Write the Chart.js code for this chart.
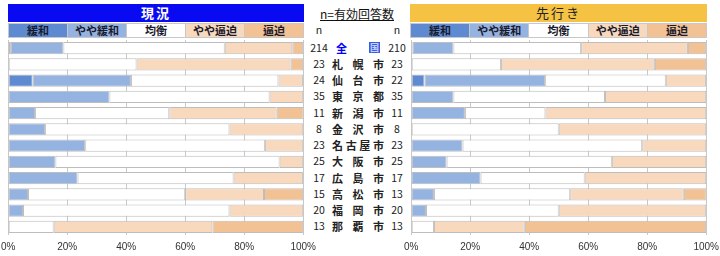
<!DOCTYPE html>
<html><head><meta charset="utf-8">
<script src="https://cdn.jsdelivr.net/npm/chart.js@4/dist/chart.umd.min.js"></script>
<style>
html,body{margin:0;padding:0;background:#fff;width:720px;height:256px;overflow:hidden;font-family:"Noto Sans CJK JP","Noto Sans",sans-serif;}
.abs{position:absolute;}
.title{position:absolute;top:4px;height:18px;line-height:18px;text-align:center;font-size:13px;font-weight:bold;letter-spacing:2px;}
.leg{position:absolute;top:23px;height:15px;display:flex;}
.leg div{flex:1;border:1px solid #c8c8c8;border-left:none;box-sizing:border-box;text-align:center;font-size:11px;line-height:13px;font-weight:bold;color:#1a1a2e;}
.leg div:first-child{border-left:1px solid #c8c8c8;}
.mid{position:absolute;left:306px;width:102px;font-size:10.5px;color:#222;}
.row{position:absolute;left:0;width:102px;height:16px;line-height:16px;}
.nl{position:absolute;left:2px;width:22px;text-align:center;}
.nr{position:absolute;left:80px;width:22px;text-align:center;}
.city{position:absolute;left:26px;width:52px;display:flex;justify-content:space-between;font-weight:bold;font-size:11px;}
</style></head>
<body>
<div class="title" style="left:8px;width:296px;background:#0a0af2;color:#fff;">現況</div>
<div class="title" style="left:410px;width:297px;background:#f5c243;color:#222;font-weight:normal;">先行き</div>
<div id="legL" class="leg" style="left:8px;width:296px;"></div>
<div id="legR" class="leg" style="left:410px;width:297px;"></div>
<div class="abs" style="left:306px;width:102px;top:5px;text-align:center;font-size:12px;text-decoration:underline;color:#111;">n=有効回答数</div>
<div id="mid" class="mid" style="top:0;height:256px;"></div>
<div id="wL" class="abs" style="left:0;top:39px;"><canvas id="cL" width="310" height="217"></canvas></div>
<div id="wR" class="abs" style="left:403px;top:39px;"><canvas id="cR" width="317" height="217"></canvas></div>
<script>
const categories = ["緩和","やや緩和","均衡","やや逼迫","逼迫"];
const cities = ["全国","札幌市","仙台市","東京都","新潟市","金沢市","名古屋市","大阪市","広島市","高松市","福岡市","那覇市"];
const nNow = [214,23,24,35,11,8,23,25,17,15,20,13];
const nFuture = [210,23,22,35,11,8,23,25,17,13,20,13];
const xTicks = ["0%","20%","40%","60%","80%","100%"];
// 現況 (%)
const nowKanwa    = [0.9, 0, 8.3, 0, 0, 0, 0, 0, 0, 0, 0, 0];
const nowYayaKan  = [17.8, 0, 33.3, 34.3, 9.1, 12.5, 26.1, 16.0, 23.5, 6.7, 5.0, 0];
const nowKinko    = [54.7, 43.5, 50.0, 54.3, 45.5, 62.5, 60.9, 76.0, 52.9, 53.3, 70.0, 15.4];
const nowYayaHip  = [22.9, 52.2, 8.3, 11.4, 36.4, 25.0, 13.0, 8.0, 23.5, 26.7, 25.0, 53.8];
const nowHippaku  = [3.7, 4.3, 0, 0, 9.1, 0, 0, 0, 0, 13.3, 0, 30.8];
// 先行き (%)
const futKanwa    = [0.5, 0, 4.5, 0, 0, 0, 0, 0, 0, 0, 0, 0];
const futYayaKan  = [13.8, 0, 40.9, 14.3, 18.2, 0, 17.4, 12.0, 23.5, 7.7, 5.0, 0];
const futKinko    = [43.3, 30.4, 40.9, 51.4, 27.3, 50.0, 60.9, 56.0, 35.3, 46.2, 45.0, 7.7];
const futYayaHip  = [36.2, 52.2, 13.6, 34.3, 54.5, 50.0, 21.7, 32.0, 41.2, 38.5, 50.0, 30.8];
const futHippaku  = [6.2, 17.4, 0, 0, 0, 0, 0, 0, 0, 7.7, 0, 61.5];

const colors = ["#5d8ad1","#95b3e1","#ffffff","#f8d9bd","#f2c194"];

for (const id of ["legL","legR"]) {
  const el = document.getElementById(id);
  categories.forEach((c,i)=>{const d=document.createElement("div");d.textContent=c;d.style.background=colors[i];el.appendChild(d);});
}
const mid = document.getElementById("mid");
const top0 = 39.5, pitch = 16.25;
function addRow(y, l, name, r, isAll){
  const row=document.createElement("div");row.className="row";row.style.top=y+"px";
  const a=document.createElement("div");a.className="nl";a.textContent=l;row.appendChild(a);
  const b=document.createElement("div");b.className="nr";b.textContent=r;row.appendChild(b);
  if(name!==null){
    const c=document.createElement("div");c.className="city";
    const chars=[...name];
    chars.forEach((ch,k)=>{const s=document.createElement("span");s.textContent=ch;
      if(isAll){s.style.color="#0000ff";if(k===chars.length-1){s.style.background="#3a5ae0";s.style.color="#c8d4ff";s.style.fontSize="9px";s.style.padding="0 1px";s.style.lineHeight="11px";s.style.alignSelf="center";}}
      c.appendChild(s);});
    if(isAll) c.style.padding="0 4px", c.style.width="44px";
    row.appendChild(c);
  }
  mid.appendChild(row);
}
addRow(top0-pitch-1, "n", null, "n", false);
cities.forEach((c,i)=>addRow(top0+i*pitch, nNow[i], c, nFuture[i], i===0));

function makeChart(id, wrapId, series, tL, tR){
  const tT = 39.5, tB = 234.5;
  const chart = new Chart(document.getElementById(id), {
    type: "bar",
    data: { labels: cities, datasets: categories.map((c,i)=>({
      label:c, data:series[i], backgroundColor:colors[i], borderColor:"#bdbdbd", borderWidth:1, borderSkipped:false,
      categoryPercentage:0.76, barPercentage:1 })) },
    options: {
      indexAxis:"y", responsive:false, maintainAspectRatio:false, animation:false, devicePixelRatio:1,
      layout:{padding:{left:0,right:0,top:0,bottom:2}},
      plugins:{legend:{display:false},tooltip:{enabled:false}},
      scales:{
        x:{stacked:true,min:0,max:100,
           ticks:{stepSize:20,padding:6,color:"#333",font:{size:10,family:"Liberation Sans, Arial"},callback:(v,i)=>xTicks[i]},
           grid:{color:"#c8c8c8",drawTicks:false}, border:{display:false}},
        y:{stacked:true,display:false}
      }
    }
  });
  const a = chart.chartArea;
  const W0 = chart.width, H0 = chart.height;
  const gL = a.left, gR = W0 - a.right, gT = a.top, gB = H0 - a.bottom;
  const W = (tR - tL) + gL + gR, H = (tB - tT) + gT + gB;
  const wrap = document.getElementById(wrapId);
  wrap.style.left = (tL - gL) + "px";
  wrap.style.top = (tT - gT) + "px";
  chart.resize(Math.round(W), Math.round(H));
}
makeChart("cL","wL",[nowKanwa,nowYayaKan,nowKinko,nowYayaHip,nowHippaku],8,303);
makeChart("cR","wR",[futKanwa,futYayaKan,futKinko,futYayaHip,futHippaku],411,706);
</script>
</body></html>
